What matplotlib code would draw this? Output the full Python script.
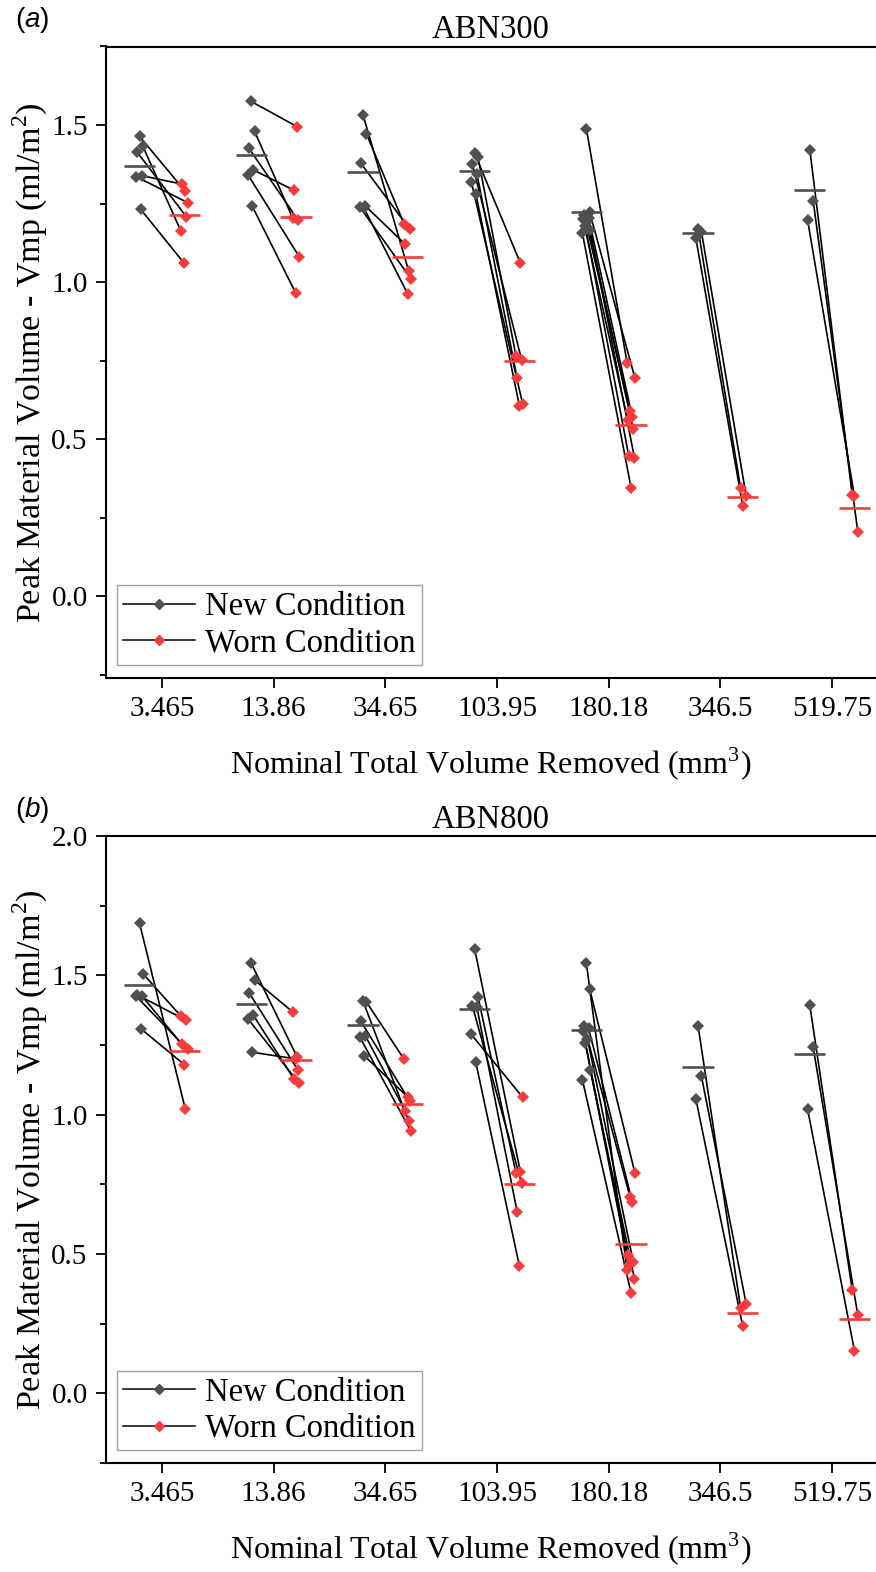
"""Paired new/worn Vmp chart for the ABN300 and ABN800 belts."""

import numpy as np
import matplotlib
import matplotlib.pyplot as plt
from matplotlib.lines import Line2D

matplotlib.use("agg")

plt.rcParams["font.family"] = ["Liberation Serif", "DejaVu Serif"]
plt.rcParams["mathtext.fontset"] = "custom"
plt.rcParams["mathtext.rm"] = "Liberation Serif"
plt.rcParams["mathtext.it"] = "Liberation Sans:italic"

categories = ["3.465", "13.86", "34.65", "103.95", "180.18", "346.5", "519.75"]

# ABN300, one list per volume removed; same index = same sample (new -> worn)
abn300_new = [
    [1.464, 1.432, 1.413, 1.339, 1.336, 1.232],
    [1.575, 1.480, 1.426, 1.357, 1.342, 1.241],
    [1.533, 1.473, 1.379, 1.243, 1.240, 1.235],
    [1.410, 1.397, 1.375, 1.345, 1.320, 1.282],
    [1.488, 1.222, 1.215, 1.205, 1.200, 1.190, 1.180, 1.165, 1.155],
    [1.168, 1.160, 1.140],
    [1.422, 1.259, 1.198],
]
abn300_worn = [
    [1.289, 1.163, 1.208, 1.312, 1.253, 1.060],
    [1.495, 1.205, 1.197, 1.293, 1.081, 0.964],
    [1.035, 1.184, 1.168, 1.120, 1.011, 0.963],
    [1.060, 0.764, 0.753, 0.694, 0.612, 0.607],
    [0.742, 0.694, 0.590, 0.572, 0.560, 0.531, 0.446, 0.441, 0.345],
    [0.345, 0.320, 0.287],
    [0.322, 0.205, 0.318],
]

# ABN800
abn800_new = [
    [1.687, 1.506, 1.430, 1.427, 1.425, 1.309],
    [1.543, 1.483, 1.438, 1.356, 1.344, 1.224],
    [1.408, 1.405, 1.336, 1.284, 1.280, 1.212],
    [1.594, 1.423, 1.390, 1.385, 1.288, 1.188],
    [1.543, 1.450, 1.318, 1.310, 1.300, 1.272, 1.258, 1.159, 1.124],
    [1.318, 1.138, 1.056],
    [1.393, 1.242, 1.020],
]
abn800_worn = [
    [1.020, 1.354, 1.338, 1.252, 1.234, 1.180],
    [1.208, 1.369, 1.159, 1.129, 1.112, 1.200],
    [0.976, 1.198, 1.048, 1.012, 0.940, 1.064],
    [0.793, 0.790, 0.754, 0.652, 1.062, 0.458],
    [0.442, 0.790, 0.706, 0.688, 0.496, 0.470, 0.460, 0.412, 0.360],
    [0.308, 0.322, 0.240],
    [0.370, 0.280, 0.152],
]

NEW_COLOR = "#505050"
WORN_COLOR = "#f63c3c"
OFFSET = 0.2
JITTER = [0.0, 0.03, -0.02, 0.02, -0.03, 0.01, -0.01, 0.035, -0.035]

W, H = 876, 1572


def draw_panel(ax, new, worn, title, ylim, yticks):
    for i, (n_vals, w_vals) in enumerate(zip(new, worn)):
        jit = np.array(JITTER[: len(n_vals)])
        xn = i - OFFSET + jit
        xw = i + OFFSET + jit[::-1]
        for a, b, c, d in zip(xn, xw, n_vals, w_vals):
            ax.plot([a, b], [c, d], color="black", lw=1.2, zorder=2)
        ax.plot(xn, n_vals, "D", color=NEW_COLOR, ms=6.5, mew=0, zorder=3)
        ax.plot(xw, w_vals, "D", color=WORN_COLOR, ms=6.5, mew=0, zorder=3)
        ax.hlines(np.mean(n_vals), i - OFFSET - 0.14, i - OFFSET + 0.14,
                  color=NEW_COLOR, lw=1.9, zorder=4)
        ax.hlines(np.mean(w_vals), i + OFFSET - 0.14, i + OFFSET + 0.14,
                  color=WORN_COLOR, lw=1.9, zorder=4)

    ax.set_xlim(-0.5, 6.5 - 12 / 111.6)
    ax.set_ylim(*ylim)
    ax.set_xticks(range(len(categories)))
    ax.set_xticklabels(categories)
    ax.set_yticks(yticks)
    ax.set_yticklabels([f"{t:.1f}" for t in yticks])
    ax.set_yticks(np.arange(-0.25, ylim[1] + 0.01, 0.25), minor=True)
    ax.tick_params(axis="both", which="major", direction="out", length=7.2,
                   width=1.3, labelsize=21, pad=6)
    ax.tick_params(axis="y", which="minor", direction="out", length=4.3, width=1.3)
    ax.spines["right"].set_visible(False)
    for side in ("left", "top", "bottom"):
        ax.spines[side].set_linewidth(1.5)
    ax.set_title(title, fontsize=23.5, pad=6)
    ax.set_xlabel("Nominal Total Volume Removed (mm$^3$)", fontsize=23, labelpad=17)
    ax.set_ylabel("Peak Material Volume - Vmp (ml/m$^2$)", fontsize=24.5, labelpad=1.5)

    handles = [
        Line2D([], [], color="black", lw=1.1, marker="D", ms=5,
               mfc=NEW_COLOR, mec=NEW_COLOR),
        Line2D([], [], color="black", lw=1.1, marker="D", ms=5,
               mfc=WORN_COLOR, mec=WORN_COLOR),
    ]
    leg = ax.legend(handles, ["New Condition", "Worn Condition"], loc="lower left",
                    bbox_to_anchor=(0.014, 0.02), borderaxespad=0, fontsize=23.5,
                    frameon=True, fancybox=False, handlelength=2.2,
                    handletextpad=0.3, labelspacing=0.18, borderpad=0.2)
    leg.get_frame().set_edgecolor("#888888")
    leg.get_frame().set_linewidth(1.0)


fig = plt.figure(figsize=(W / 100, H / 100), dpi=100)
left = 106 / W
width = 1 - left
ax_a = fig.add_axes([left, 1 - 678 / H, width, (678 - 46.5) / H])
ax_b = fig.add_axes([left, 1 - 1463 / H, width, (1463 - 836) / H])

draw_panel(ax_a, abn300_new, abn300_worn, "ABN300", (-0.26, 1.75), [0.0, 0.5, 1.0, 1.5])
draw_panel(ax_b, abn800_new, abn800_worn, "ABN800", (-0.25, 2.0), [0.0, 0.5, 1.0, 1.5, 2.0])

fig.text(15 / W, 1 - 20 / H, r"($\mathit{a}$)", family="Liberation Sans",
         fontsize=20, va="center", ha="left")
fig.text(15 / W, 1 - 810 / H, r"($\mathit{b}$)", family="Liberation Sans",
         fontsize=20, va="center", ha="left")

fig.savefig("out.png", dpi=100)
plt.close(fig)
